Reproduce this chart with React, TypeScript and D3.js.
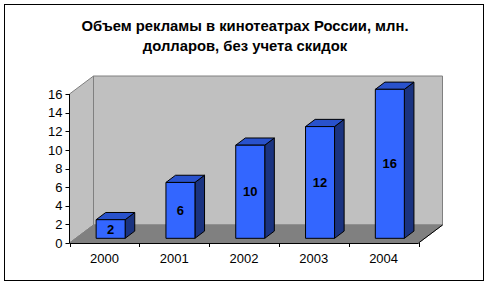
import React from "react";
import * as d3 from "d3";

const categories = ["2000", "2001", "2002", "2003", "2004"];
const values = [2, 6, 10, 12, 16];
const yTicks = [0, 2, 4, 6, 8, 10, 12, 14, 16];
const titleLines = ["Объем рекламы в кинотеатрах России, млн.", "долларов, без учета скидок"];

const W = 491;
const H = 286;
const FONT = "Arial, 'Liberation Sans', sans-serif";

export default function App() {
  const x0 = 69.5, x1 = 418.5;
  const yBottom = 243, yTop = 94;
  const DX = 24, DY = 18;
  const x = d3.scaleBand<string>().domain(categories).range([x0, x1]).paddingInner(0).paddingOuter(0);
  const y = d3.scaleLinear().domain([0, 16]).range([yBottom, yTop]);
  const proj = (px: number, py: number, d: number): [number, number] => [px + DX * d, py - DY * d];
  const pts = (arr: [number, number][]) => arr.map((p) => p.join(",")).join(" ");

  const d1 = 0.26, d2 = 0.66;
  const bw = 29;

  const backWall = pts([proj(x0, y(16), 1), proj(x1, y(16), 1), proj(x1, y(0), 1), proj(x0, y(0), 1)]);
  const leftWall = pts([proj(x0, y(16), 0), proj(x0, y(16), 1), proj(x0, y(0), 1), proj(x0, y(0), 0)]);
  const floor = pts([proj(x0, y(0), 0), proj(x0, y(0), 1), proj(x1, y(0), 1), proj(x1, y(0), 0)]);

  return (
    <svg width={W} height={H} style={{ position: "absolute", left: 0, top: 0, background: "#fff" }} fontFamily={FONT}>
      <rect x={4.5} y={4.5} width={479} height={276} fill="#fff" stroke="#000" strokeWidth={1} />
      {titleLines.map((t, i) => (
        <text key={i} x={245} y={30.5 + i * 20.5} textAnchor="middle" fontSize={14.8} fontWeight="bold" fill="#000">
          {t}
        </text>
      ))}
      <polygon points={backWall} fill="#C0C0C0" stroke="#808080" strokeWidth={1} />
      <polygon points={leftWall} fill="#C0C0C0" stroke="#808080" strokeWidth={1} />
      <polygon points={floor} fill="#808080" stroke="#808080" strokeWidth={1} />
      <line x1={x1} y1={yBottom} x2={x1 + DX} y2={yBottom - DY} stroke="#000" strokeWidth={1} />
      {categories.map((c, i) => {
        const v = values[i];
        const bx = (x(c) as number) + (x.bandwidth() - bw) / 2;
        const bxr = bx + bw;
        const front = pts([proj(bx, y(v), d1), proj(bxr, y(v), d1), proj(bxr, y(0), d1), proj(bx, y(0), d1)]);
        const top = pts([proj(bx, y(v), d1), proj(bx, y(v), d2), proj(bxr, y(v), d2), proj(bxr, y(v), d1)]);
        const side = pts([proj(bxr, y(v), d1), proj(bxr, y(v), d2), proj(bxr, y(0), d2), proj(bxr, y(0), d1)]);
        const [cx, cyTop] = proj((bx + bxr) / 2, y(v), d1);
        const [, cyBot] = proj((bx + bxr) / 2, y(0), d1);
        return (
          <g key={c}>
            <polygon points={side} fill="#1A3380" stroke="#000" strokeWidth={1} strokeLinejoin="round" />
            <polygon points={top} fill="#2952CC" stroke="#000" strokeWidth={1} strokeLinejoin="round" />
            <polygon points={front} fill="#3366FF" stroke="#000" strokeWidth={1} strokeLinejoin="round" />
            <text x={cx} y={(cyTop + cyBot) / 2 + 4.5} textAnchor="middle" fontSize={13} fontWeight="bold" fill="#000">
              {v}
            </text>
          </g>
        );
      })}
      <line x1={x0} y1={yTop} x2={x0} y2={yBottom} stroke="#000" strokeWidth={1} />
      {yTicks.map((t) => (
        <g key={t}>
          <line x1={x0 - 4} x2={x0} y1={Math.round(y(t)) + 0.5} y2={Math.round(y(t)) + 0.5} stroke="#000" />
          <text x={62.5} y={y(t) + 4.7} textAnchor="end" fontSize={13} fill="#000">
            {t}
          </text>
        </g>
      ))}
      <line x1={x0} y1={yBottom + 0.5} x2={x1} y2={yBottom + 0.5} stroke="#000" strokeWidth={1} />
      {[...categories.map((c) => x(c) as number), x1].map((tx, i) => (
        <line key={i} x1={Math.round(tx) + 0.5} x2={Math.round(tx) + 0.5} y1={yBottom} y2={yBottom + 4} stroke="#000" />
      ))}
      {categories.map((c) => (
        <text key={c} x={(x(c) as number) + x.bandwidth() / 2} y={263} textAnchor="middle" fontSize={13} fill="#000">
          {c}
        </text>
      ))}
    </svg>
  );
}
